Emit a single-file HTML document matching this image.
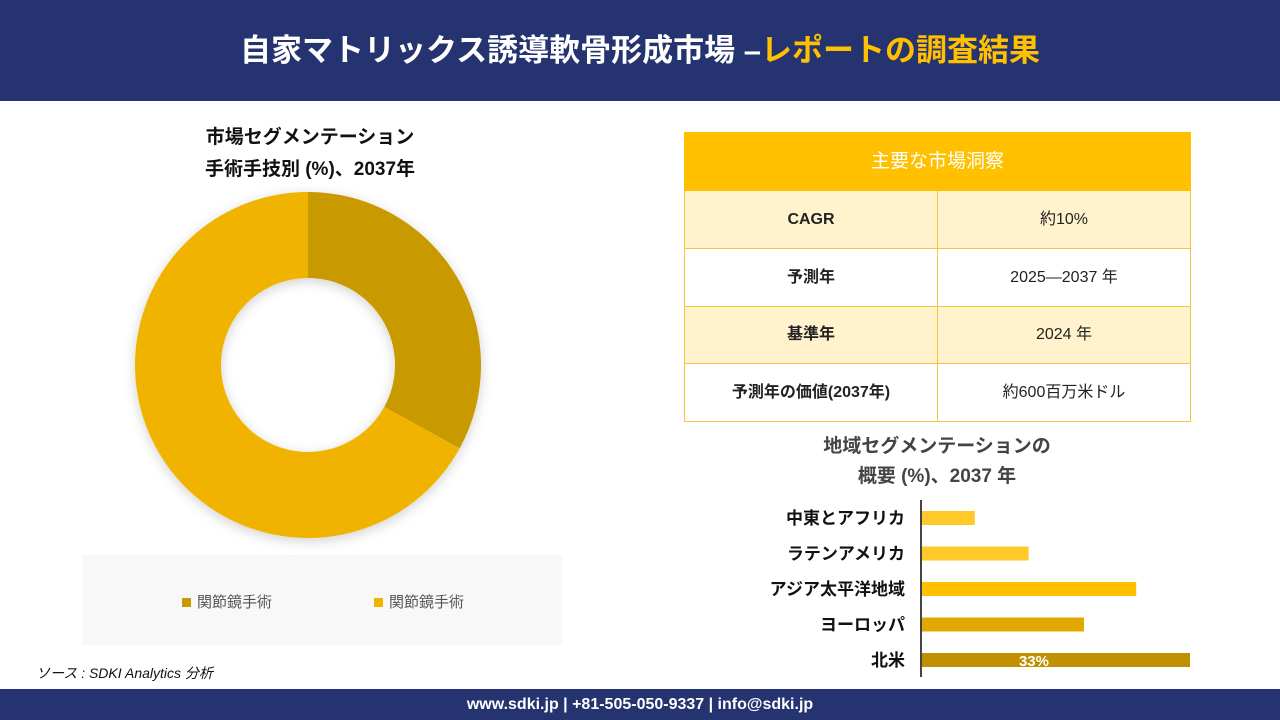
<!DOCTYPE html>
<html><head><meta charset="utf-8">
<style>
body{margin:0;width:1280px;height:720px;position:relative;background:#fff;font-family:"Liberation Sans","Noto Sans CJK JP",sans-serif;overflow:hidden}
.abs{position:absolute}
#hdr{left:0;top:0;width:1280px;height:101px;background:#253370;color:#fff;font-size:31px;font-weight:bold;text-align:center;line-height:101px}
#ftr{left:0;top:689px;width:1280px;height:31px;background:#253370;color:#fff;font-size:16px;font-weight:bold;text-align:center;line-height:31px}
table{border-collapse:collapse;table-layout:fixed}
td{border:1px solid #f4c542;height:56px;padding:0;text-align:center;vertical-align:middle;font-size:16px;color:#222;line-height:20px}
</style></head><body>
<div class="abs" id="hdr">自家マトリックス誘導軟骨形成市場 –<span style="color:#FFC000">レポートの調査結果</span></div>

<div class="abs" style="left:100px;top:122px;width:420px;text-align:center;font-size:19px;font-weight:bold;line-height:32px;color:#111">市場セグメンテーション<br>手術手技別 (%)、2037年</div>

<svg class="abs" style="left:0;top:0" width="640" height="690">
<defs><filter id="sh" x="-20%" y="-20%" width="140%" height="140%"><feDropShadow dx="0" dy="3" stdDeviation="6" flood-color="#000" flood-opacity="0.18"/></filter></defs>
<g id="donut" filter="url(#sh)"></g>
</svg>

<div class="abs" style="left:82px;top:555px;width:480px;height:90px;background:#f8f8f8;font-size:15px;color:#555">
<div class="abs" style="left:100px;top:36px"><span style="display:inline-block;width:9px;height:9px;background:#C89A00;margin-right:6px"></span>関節鏡手術</div>
<div class="abs" style="left:292px;top:36px"><span style="display:inline-block;width:9px;height:9px;background:#F0B400;margin-right:6px"></span>関節鏡手術</div>
</div>

<div class="abs" style="left:36px;top:663px;font-size:14px;font-style:italic;color:#111">ソース : SDKI Analytics 分析</div>

<table class="abs" style="left:684px;top:132px;width:507px">
<tr style="height:58px"><td colspan="2" style="background:#FFC000;color:#fff;font-size:19px;border-color:#FFC000">主要な市場洞察</td></tr>
<tr style="background:#FFF2CC;height:58px"><td style="font-weight:bold;width:50%">CAGR</td><td>約10%</td></tr>
<tr style="height:58px"><td style="font-weight:bold">予測年</td><td>2025—2037 年</td></tr>
<tr style="background:#FFF2CC;height:57px"><td style="font-weight:bold">基準年</td><td>2024 年</td></tr>
<tr style="height:58px"><td style="font-weight:bold">予測年の価値(2037年)</td><td>約600百万米ドル</td></tr>
</table>

<div class="abs" style="left:737px;top:432px;width:400px;text-align:center;font-size:19px;font-weight:bold;line-height:30px;color:#444">地域セグメンテーションの<br>概要 (%)、2037 年</div>

<svg class="abs" style="left:0;top:0" width="1280" height="690">
<g id="bars"></g>
<line x1="921" y1="500" x2="921" y2="677" stroke="#444" stroke-width="2"/>
</svg>

<div class="abs" id="ftr">www.sdki.jp | +81-505-050-9337 | info@sdki.jp</div>

<script>
const donutLabels=["関節鏡手術","関節鏡手術"];
const donutValues=[33,67];
const donutColors=["#C89A00","#F0B400"];
const regions=["中東とアフリカ","ラテンアメリカ","アジア太平洋地域","ヨーロッパ","北米"];
const regionValues=[6.6,13.2,26.4,20,33];
const barColors=["#FFC929","#FFC929","#FFC000","#E0A800","#C09000"];
const NS="http://www.w3.org/2000/svg";
const cx=308,cy=365,R=173,r=87;
const tot=donutValues.reduce((a,b)=>a+b,0);
let a0=0;const dg=document.getElementById('donut');
function pt(a,rad){return [cx+rad*Math.sin(a),cy-rad*Math.cos(a)];}
donutValues.forEach((v,i)=>{
 const a1=a0+v/tot*2*Math.PI;const lg=(a1-a0)>Math.PI?1:0;
 const p1=pt(a0,R),p2=pt(a1,R),p3=pt(a1,r),p4=pt(a0,r);
 const p=document.createElementNS(NS,'path');
 p.setAttribute('d',`M${p1}A${R},${R} 0 ${lg} 1 ${p2}L${p3}A${r},${r} 0 ${lg} 0 ${p4}Z`);
 p.setAttribute('fill',donutColors[i]);
 
 
 dg.appendChild(p);a0=a1;
});
const x0=921,pxPer=269/33;
const y=i=>518+i*35.5;
const bg=document.getElementById('bars');
regions.forEach((name,i)=>{
 const yc=y(i);
 const rc=document.createElementNS(NS,'rect');
 rc.setAttribute('x',x0);rc.setAttribute('y',yc-7);
 rc.setAttribute('width',regionValues[i]*pxPer);rc.setAttribute('height',14);
 rc.setAttribute('fill',barColors[i]);
 
 
 bg.appendChild(rc);
 const t=document.createElementNS(NS,'text');
 t.setAttribute('x',905);t.setAttribute('y',yc+6);t.setAttribute('text-anchor','end');
 t.setAttribute('font-size','17');t.setAttribute('font-weight','bold');t.setAttribute('fill','#111');
 
 
 t.textContent=name;bg.appendChild(t);
 if(i===regions.length-1){
  const l=document.createElementNS(NS,'text');
  l.setAttribute('x',x0+regionValues[i]*pxPer*0.42);l.setAttribute('y',yc+6);l.setAttribute('text-anchor','middle');
  l.setAttribute('font-size','15');l.setAttribute('font-weight','bold');l.setAttribute('fill','#fff');
  
  
  l.textContent=regionValues[i]+'%';bg.appendChild(l);
 }
});
</script>
</body></html>
